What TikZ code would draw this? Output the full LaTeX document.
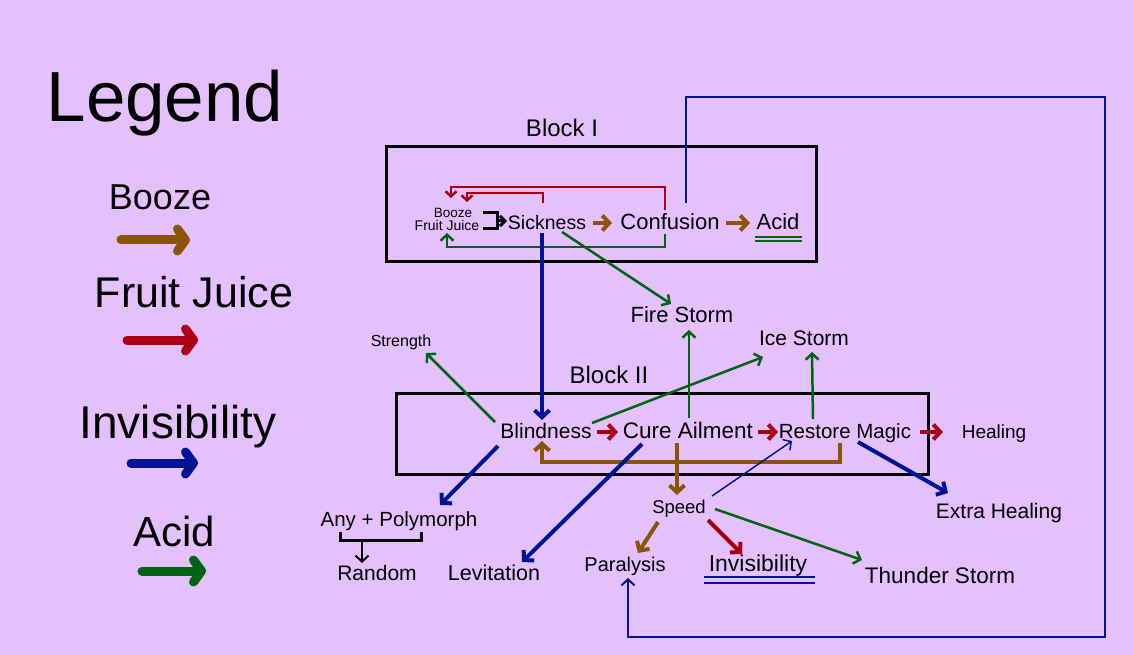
\documentclass[tikz,border=0pt]{standalone}
\usepackage{fontspec}
\setmainfont{Liberation Sans}
\usetikzlibrary{arrows.meta,calc}
\definecolor{bgc}{RGB}{228,193,252}
\definecolor{cbrown}{RGB}{140,85,5}
\definecolor{cred}{RGB}{170,0,20}
\definecolor{cblue}{RGB}{0,20,150}
\definecolor{cgreen}{RGB}{0,100,20}
\begin{document}
\begin{tikzpicture}[x=1pt,y=-1pt,
  lbl/.style={font=\fontsize{#1}{#1}\selectfont, anchor=base, inner sep=0pt},
  tipA/.style={-{Straight Barb[length=7pt,width=15pt]}},
  tipB/.style={-{Straight Barb[length=6pt,width=13pt]}},
  brn/.style={draw=cbrown, line width=4pt, tipA},
  rd/.style={draw=cred, line width=4pt, tipA},
  rdthin/.style={draw=cred, line width=2.5pt, -{Straight Barb[length=5pt,width=11pt]}},
  bluethick/.style={draw=cblue, line width=4pt, tipA},
  bluethin/.style={draw=cblue, line width=1.5pt, tipB},
  grn/.style={draw=cgreen, line width=2.5pt, tipB},
  blk/.style={draw=black, line width=3pt},
  blockbox/.style={draw=black, line width=3pt},
  legarrow/.style={line width=9pt, line cap=round, -{Straight Barb[round,length=8pt,width=22pt]}},
  uline/.style={line width=2pt}
]
\fill[bgc] (0,0) rectangle (1133,655);
\useasboundingbox (0,0) rectangle (1133,655);

% ---------- Legend ----------
\node[lbl=71] (legend) at (165,122) {Legend};
\node[lbl=36] (lbooze) at (160,210) {Booze};
\node[lbl=43] (lfruit) at (194,308) {Fruit Juice};
\node[lbl=46] (linvis) at (178,438) {Invisibility};
\node[lbl=42] (lacid) at (174,546) {Acid};
\draw[legarrow, cbrown] (121,240) -- (190,240);
\draw[legarrow, cred] (127,340) -- (198,340);
\draw[legarrow, cblue] (131,463) -- (198,463);
\draw[legarrow, cgreen] (142,571) -- (206,571);

% ---------- Blocks ----------
\draw[blockbox] (386,147) rectangle (816,262);
\draw[blockbox] (396,393) rectangle (928,474);
\node[lbl=24] (blocki) at (562,137) {Block I};
\node[lbl=24] (blockii) at (609,383) {Block II};

% ---------- Block I nodes ----------
\node[lbl=13.5] (bz) at (453,218) {Booze};
\node[lbl=14] (fj) at (447,231) {Fruit Juice};
\node[lbl=19.5] (sick) at (547,230) {Sickness};
\node[lbl=22] (conf) at (670,230) {Confusion};
\node[lbl=22] (acid) at (778,230) {Acid};

% ---------- Block II and other nodes ----------
\node[lbl=21] (blind) at (546,438) {Blindness};
\node[lbl=22.5] (cure) at (688,438) {Cure Ailment};
\node[lbl=20.5] (rest) at (845,438) {Restore Magic};
\node[lbl=19] (heal) at (994,438) {Healing};
\node[lbl=22] (fire) at (682,323) {Fire Storm};
\node[lbl=21] (ice) at (804,345) {Ice Storm};
\node[lbl=16] (str) at (401,346) {Strength};
\node[lbl=20.5] (any) at (399,526) {Any + Polymorph};
\node[lbl=21] (rand) at (377,580) {Random};
\node[lbl=21.5] (lev) at (494,580) {Levitation};
\node[lbl=18.5] (speed) at (679,513) {Speed};
\node[lbl=20] (para) at (625,571) {Paralysis};
\node[lbl=23] (invis) at (758,571) {Invisibility};
\node[lbl=22.5] (thun) at (940,583) {Thunder Storm};
\node[lbl=21] (extra) at (999,518) {Extra Healing};

\coordinate (loopTR) at (1105,97);
\coordinate (loopBR) at (1105,637);

% ---------- Block I connectors ----------
\draw[blk] ($(fj.base)+(36,-18)$) -| ($(fj.base)+(50,-2)$) -- ($(fj.base)+(36,-2)$);
\draw[blk, -{Straight Barb[length=5pt,width=10pt]}] ($(fj.base)+(50,-10)$) -- ($(sick.base)+(-40,-9)$);
\draw[rdthin] ($(sick.base)+(-4,-27)$) |- ($(bz.base)+(14,-25)$) -- ($(bz.base)+(14,-16)$);
\draw[rdthin] ($(conf.base)+(-5,-20)$) |- ($(bz.base)+(-2,-31)$) -- ($(bz.base)+(-2,-20)$);
\draw[grn] ($(conf.base)+(-5,4)$) |- ($(fj.base)+(0,16)$) -- ($(fj.base)+(0,2)$);
\draw[brn] ($(sick.base)+(46,-7)$) -- ($(conf.base)+(-58,-7)$);
\draw[brn] ($(conf.base)+(56,-7)$) -- ($(acid.base)+(-28,-7)$);
\draw[cgreen, uline] ($(acid.base)+(-23,7)$) -- ($(acid.base)+(24,7)$);
\draw[cgreen, uline] ($(acid.base)+(-23,11)$) -- ($(acid.base)+(24,11)$);
\draw[draw=cblue, line width=2pt, tipB] ($(conf.base)+(16,-27)$) |- (loopTR) -- (loopBR) -| ($(para.base)+(3,7)$);
\draw[bluethick] ($(sick.base)+(-5,3)$) -- ($(blind.base)+(-4,-18)$);
\draw[grn] ($(sick.base)+(15,2)$) -- ($(fire.base)+(-11,-19)$);

% ---------- Block II connectors ----------
\draw[rd] ($(blind.base)+(51,-6)$) -- ($(cure.base)+(-70,-6)$);
\draw[rd] ($(cure.base)+(70,-6)$) -- ($(rest.base)+(-67,-6)$);
\draw[rd] ($(rest.base)+(75,-6)$) -- ($(heal.base)+(-51,-6)$);
\draw[brn] ($(rest.base)+(-5,5)$) |- ($(blind.base)+(-4,24)$) -- ($(blind.base)+(-4,3)$);
\draw[brn] ($(cure.base)+(-11,5)$) -- ($(speed.base)+(-2,-18)$);
\draw[bluethin] ($(speed.base)+(33,-17)$) -- ($(rest.base)+(-53,3)$);
\draw[bluethick] ($(rest.base)+(13,4)$) -- ($(extra.base)+(-51,-25)$);
\draw[grn] ($(cure.base)+(1,-20)$) -- ($(fire.base)+(7,7)$);
\draw[grn] ($(rest.base)+(-32,-19)$) -- ($(ice.base)+(8,7)$);
\draw[grn] ($(blind.base)+(46,-15)$) -- ($(ice.base)+(-41,12)$);
\draw[grn] ($(blind.base)+(-51,-16)$) -- ($(str.base)+(25,7)$);
\draw[bluethick] ($(blind.base)+(-48,8)$) -- ($(any.base)+(41,-21)$);
\draw[bluethick] ($(cure.base)+(-46,6)$) -- ($(lev.base)+(28,-18)$);

% ---------- Bottom connectors ----------
\draw[blk] ($(any.base)+(-59,6)$) |- ($(any.base)+(22,14)$) -- ($(any.base)+(22,6)$);
\draw[draw=black, line width=2pt, tipB] ($(any.base)+(-37,14)$) -- ($(rand.base)+(-15,-17)$);
\draw[brn] ($(speed.base)+(-21,9)$) -- ($(para.base)+(13,-18)$);
\draw[rd] ($(speed.base)+(29,7)$) -- ($(invis.base)+(-16,-17)$);
\draw[grn] ($(speed.base)+(36,-4)$) -- ($(thun.base)+(-78,-23)$);
\draw[cblue, uline] ($(invis.base)+(-54,6)$) -- ($(invis.base)+(57,6)$);
\draw[cblue, uline] ($(invis.base)+(-54,12)$) -- ($(invis.base)+(57,12)$);
\end{tikzpicture}
\end{document}
